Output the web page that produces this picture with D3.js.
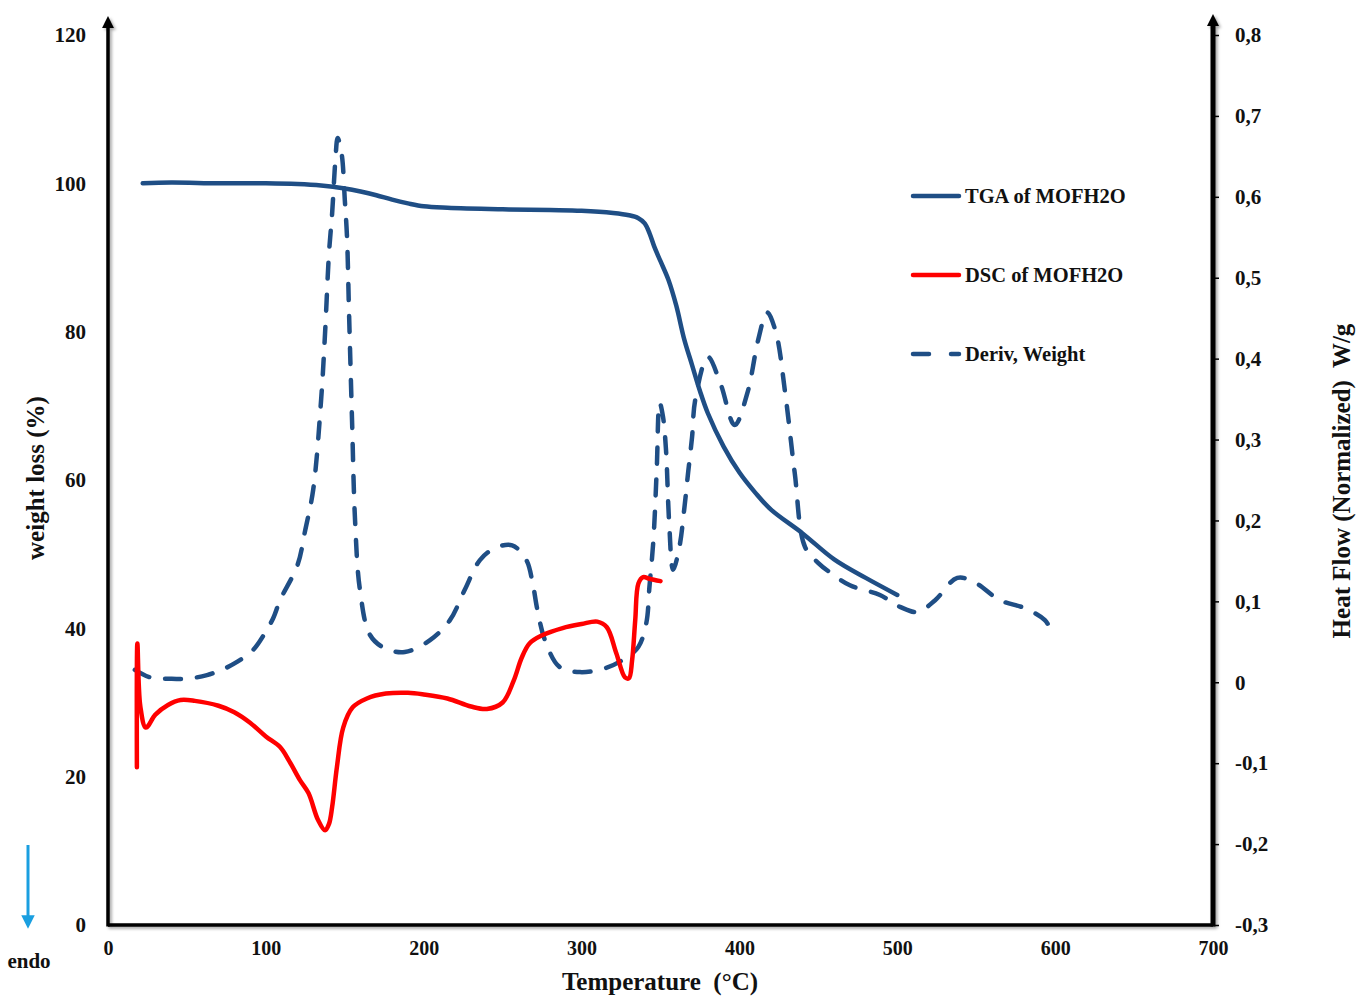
<!DOCTYPE html>
<html>
<head>
<meta charset="utf-8">
<script src="https://cdn.jsdelivr.net/npm/d3@7"></script>
<style>
  html, body { margin: 0; padding: 0; background: #fff; }
  svg { display: block; }
  text { font-family: "Liberation Serif", "Times New Roman", serif; font-weight: bold; fill: #111; }
</style>
</head>
<body>
<svg id="chart" width="1359" height="998"></svg>
<script>
// Temperature ticks and axis labels
const xTicks = [0, 100, 200, 300, 400, 500, 600, 700];
const leftTicks = [0, 20, 40, 60, 80, 100, 120];
const rightTicks = [-0.3, -0.2, -0.1, 0, 0.1, 0.2, 0.3, 0.4, 0.5, 0.6, 0.7, 0.8];

// TGA: temperature (°C), weight (%)
const tgaT = [22, 40, 70, 100, 120, 135, 150, 160, 170, 180, 190, 200, 215, 250, 280, 300, 320, 330, 336, 340, 343, 346, 350, 355, 360, 365, 370, 375, 380, 390, 400, 410, 420, 440, 460, 480, 500];
const tgaW = [100, 100.1, 100, 100, 99.9, 99.7, 99.3, 98.9, 98.4, 97.8, 97.3, 96.9, 96.7, 96.5, 96.4, 96.3, 96.0, 95.7, 95.3, 94.6, 93.3, 91.5, 89.5, 87, 83.5, 79, 75.5, 72, 69, 64.5, 61, 58.3, 56, 52.8, 49.3, 46.8, 44.5];

// DSC: temperature (°C), heat flow (W/g)
const dscT = [18.3, 18.6, 20.5, 24, 30, 38, 46, 55, 70, 80, 90, 100, 109, 115, 121.6, 127, 133, 137.5, 140, 142, 145, 149, 155, 164, 176, 190, 200, 215, 230, 240, 250, 257, 262, 267, 275, 288, 300, 310, 316, 322, 327.5, 330, 332, 334, 336, 339, 343, 350];
const dscH = [-0.105, 0.048, -0.03, -0.056, -0.04, -0.028, -0.022, -0.023, -0.029, -0.037, -0.050, -0.067, -0.080, -0.098, -0.121, -0.137, -0.170, -0.183, -0.175, -0.154, -0.105, -0.056, -0.031, -0.020, -0.014, -0.013, -0.015, -0.020, -0.030, -0.033, -0.025, 0.002, 0.030, 0.048, 0.058, 0.067, 0.072, 0.075, 0.068, 0.036, 0.006, 0.005, 0.027, 0.077, 0.122, 0.130, 0.128, 0.125];

// Derivative weight, drawn against the weight axis
const dwT = [17, 26.6, 39, 50, 62.7, 72, 82, 92, 99.5, 104.7, 109, 120, 125, 130, 135, 137.5, 140, 142, 144, 145.5, 148, 150, 151.4, 152.7, 154.6, 156.5, 159.6, 166, 175.5, 188, 204, 216.6, 226, 235.6, 245, 256, 265, 269, 272, 276.8, 286, 299, 316, 328.6, 336, 341, 343, 345.5, 347.6, 349.5, 351.6, 353.5, 355.5, 358, 362, 365, 367.5, 370, 372, 380, 388, 397, 405, 412, 417.5, 423, 429, 435, 441.5, 450, 457, 470, 489, 501.7, 513, 524, 538, 549, 565, 581, 593.5, 598];
const dwV = [34.4, 33.4, 33.2, 33.2, 33.7, 34.4, 35.5, 37.1, 39.4, 41.4, 43.8, 48.5, 53.3, 58.7, 70.8, 79.8, 90.6, 96, 103, 106.1, 104, 97.8, 92.8, 82.5, 68, 54.6, 45.2, 39.1, 37.3, 36.8, 38.4, 41.1, 45.2, 49.2, 50.8, 51.2, 49.2, 46.1, 42.5, 38.4, 34.8, 34.1, 34.7, 36.1, 37.5, 40.7, 45.6, 51.9, 61.3, 70.4, 68.5, 64, 54.2, 47.9, 51, 56, 61, 65.8, 70.8, 76.6, 73, 67.4, 71.7, 79, 82.6, 80, 71.7, 61, 51, 48.8, 47.6, 45.8, 44.5, 42.9, 42.2, 43.8, 46.8, 46.2, 43.8, 42.7, 41.1, 39.5];

const legendNames = ["TGA of MOFH2O", "DSC of MOFH2O", "Deriv, Weight"];

const svg = d3.select("#chart");
const X0 = 108, X1 = 1213, Y0 = 925, Y1 = 35;

const x = d3.scaleLinear().domain([0, 700]).range([X0, X1]);
const yL = d3.scaleLinear().domain([0, 120]).range([Y0, Y1]);
const yR = d3.scaleLinear().domain([-0.3, 0.8]).range([Y0, Y1]);

const blue = "#1f4e85", red = "#ff0000";
const FONT = "Liberation Serif";

// soft shadow for the axis lines
const defs = svg.append("defs");
const f = defs.append("filter").attr("id", "shadow").attr("x", "-20%").attr("y", "-20%").attr("width", "140%").attr("height", "140%");
f.append("feDropShadow").attr("dx", 2).attr("dy", 2).attr("stdDeviation", 1.5).attr("flood-color", "#000").attr("flood-opacity", 0.35);

function marker(id, w, h, color) {
  defs.append("marker").attr("id", id).attr("viewBox", "0 0 10 10")
    .attr("refX", 5).attr("refY", 5).attr("markerWidth", w).attr("markerHeight", h)
    .attr("orient", "auto")
    .append("path").attr("d", "M0,0 L10,5 L0,10 z").attr("fill", color);
}
marker("arrowL", 4, 3.4, "#000");
marker("arrowR", 2.8, 2.4, "#000");
marker("arrowB", 4.5, 4.5, "#1a9fe0");

// axes
const axes = svg.append("g").attr("filter", "url(#shadow)");
axes.append("line").attr("x1", X0).attr("x2", X1).attr("y1", Y0).attr("y2", Y0)
  .attr("stroke", "#000").attr("stroke-width", 3.5);
axes.append("line").attr("x1", X0).attr("x2", X0).attr("y1", Y0 + 1.5).attr("y2", 22)
  .attr("stroke", "#000").attr("stroke-width", 3.5).attr("marker-end", "url(#arrowL)");
axes.append("line").attr("x1", X1).attr("x2", X1).attr("y1", Y0 + 1.5).attr("y2", 20)
  .attr("stroke", "#000").attr("stroke-width", 5).attr("marker-end", "url(#arrowR)");

// left tick labels
const gl = svg.append("g").attr("transform", `translate(${X0},0)`)
  .call(d3.axisLeft(yL).tickValues(leftTicks).tickSize(0).tickPadding(22).tickFormat(d3.format("d")));
gl.select(".domain").remove();
gl.selectAll("text").attr("font-size", 21).attr("font-family", FONT).attr("font-weight", "bold").attr("fill", "#111");

// right axis with small outward ticks and comma decimals
const commaFmt = d => d === 0 ? "0" : d3.format(".1f")(d).replace(".", ",").replace("−", "-");
const gr = svg.append("g").attr("transform", `translate(${X1},0)`)
  .call(d3.axisRight(yR).tickValues(rightTicks).tickSize(6).tickPadding(16).tickFormat(commaFmt));
gr.select(".domain").remove();
gr.selectAll("line").attr("stroke", "#000").attr("stroke-width", 1.5);
gr.selectAll("text").attr("font-size", 21).attr("font-family", FONT).attr("font-weight", "bold").attr("fill", "#111");

// bottom tick labels
const gb = svg.append("g").attr("transform", `translate(0,${Y0})`)
  .call(d3.axisBottom(x).tickValues(xTicks).tickSize(0).tickPadding(16).tickFormat(d3.format("d")));
gb.select(".domain").remove();
gb.selectAll("text").attr("font-size", 20).attr("font-family", FONT).attr("font-weight", "bold").attr("fill", "#111");

// axis titles
svg.append("text").attr("transform", "translate(44,478) rotate(-90)")
  .attr("text-anchor", "middle").attr("font-size", 25).text("weight loss (%)");
svg.append("text").attr("transform", "translate(1350,481) rotate(-90)")
  .attr("text-anchor", "middle").attr("font-size", 25).attr("xml:space", "preserve").text("Heat Flow (Normalized)  W/g");
svg.append("text").attr("x", 660).attr("y", 990)
  .attr("text-anchor", "middle").attr("font-size", 25).attr("xml:space", "preserve").text("Temperature  (°C)");

// endotherm direction
svg.append("line").attr("x1", 28).attr("x2", 28).attr("y1", 845).attr("y2", 922)
  .attr("stroke", "#1a9fe0").attr("stroke-width", 3).attr("marker-end", "url(#arrowB)");
svg.append("text").attr("x", 29).attr("y", 968).attr("text-anchor", "middle").attr("font-size", 21).text("endo");

// curves
const lineL = d3.line().x(d => x(d[0])).y(d => yL(d[1])).curve(d3.curveCatmullRom.alpha(0.5));
const lineR = d3.line().x(d => x(d[0])).y(d => yR(d[1])).curve(d3.curveCatmullRom.alpha(0.5));

svg.append("path").datum(d3.zip(dwT, dwV)).attr("d", lineL)
  .attr("fill", "none").attr("stroke", blue).attr("stroke-width", 4.5)
  .attr("stroke-dasharray", "16,16").attr("stroke-linecap", "round");
svg.append("path").datum(d3.zip(dscT, dscH)).attr("d", lineR)
  .attr("fill", "none").attr("stroke", red).attr("stroke-width", 4.5)
  .attr("stroke-linejoin", "round").attr("stroke-linecap", "round");
svg.append("path").datum(d3.zip(tgaT, tgaW)).attr("d", lineL)
  .attr("fill", "none").attr("stroke", blue).attr("stroke-width", 4.5)
  .attr("stroke-linecap", "round");

// legend
const legendY = [196, 275, 354];
const lg = svg.append("g");
legendNames.forEach((name, i) => {
  const l = lg.append("line").attr("x1", 913).attr("x2", 959).attr("y1", legendY[i]).attr("y2", legendY[i])
    .attr("stroke", i === 1 ? red : blue).attr("stroke-width", 4.5).attr("stroke-linecap", "round");
  if (i === 2) l.attr("stroke-dasharray", "16,22");
  lg.append("text").attr("x", 965).attr("y", legendY[i] + 7).attr("font-size", 20.5).text(name);
});
</script>
</body>
</html>
